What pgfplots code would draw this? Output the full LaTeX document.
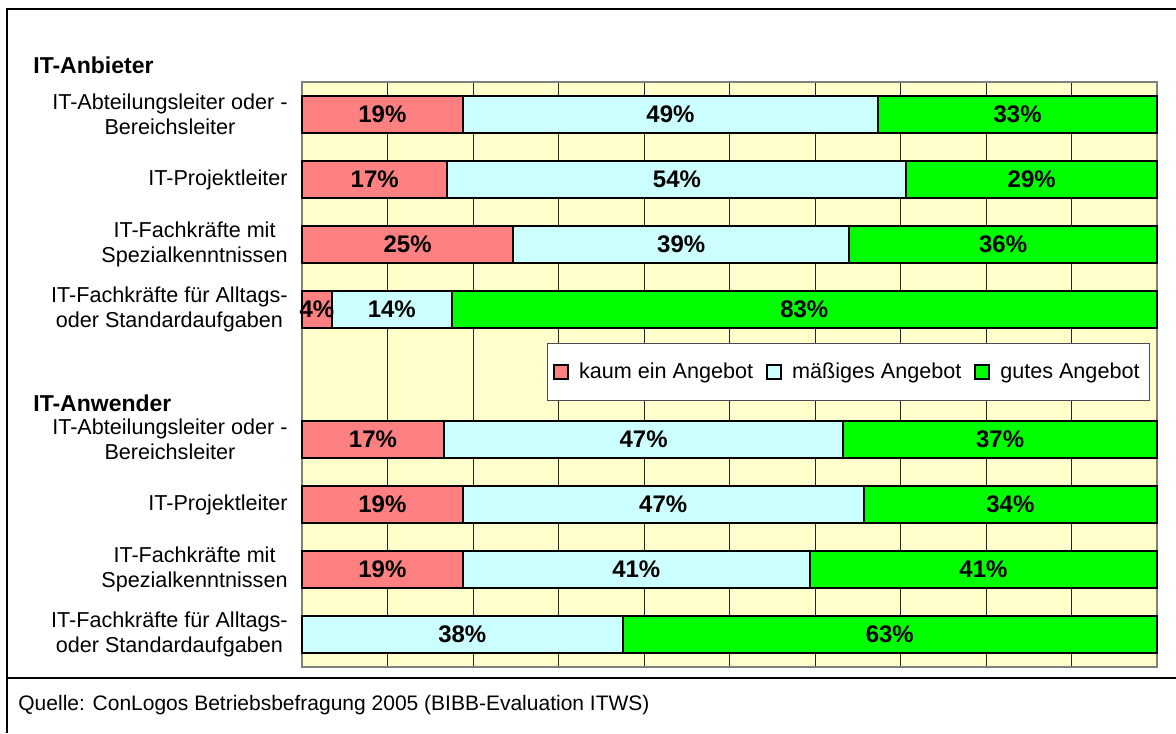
\documentclass[border=0pt]{standalone}
\usepackage{pgfplots}
\pgfplotsset{compat=1.18}
\usepackage{fontspec}
\setmainfont{Liberation Sans}

\definecolor{kaum}{HTML}{FF8080}
\definecolor{maessig}{HTML}{CCFFFF}
\definecolor{gut}{HTML}{00FF00}
\definecolor{plotbg}{HTML}{FFFFCC}

% 1 px of the 1176x733 image = 0.5pt
\begin{document}
\begin{tikzpicture}
  \path[use as bounding box] (0pt,0pt) rectangle (588pt,-366.5pt);
  \draw[line width=1.3pt] (3.5pt,-366.5pt) -- (3.5pt,-4.5pt) -- (588pt,-4.5pt);
  \draw[line width=1.3pt] (3.5pt,-339pt) -- (588pt,-339pt);

  \begin{axis}[
      at={(151pt,-41pt)}, anchor=north west,
      scale only axis,
      width=427.5pt, height=292.5pt,
      xbar stacked,
      bar width=18.5pt,
      xmin=0, xmax=100,
      ymin=0.5, ymax=9.5,
      y dir=reverse,
      clip=false,
      axis background/.style={fill=plotbg},
      axis line style={draw=gray, line width=1.3pt},
      xtick={0,10,...,100},
      xticklabels={},
      xmajorgrids,
      grid style={black!85, line width=0.5pt},
      major tick length=0pt,
      ytick={1,2,3,4,6,7,8,9},
      yticklabels={
          {IT-Abteilungsleiter oder -\\Bereichsleiter},
          {IT-Projektleiter},
          {IT-Fachkräfte mit\\Spezialkenntnissen},
          {IT-Fachkräfte für Alltags-\\oder Standardaufgaben},
          {IT-Abteilungsleiter oder -\\Bereichsleiter},
          {IT-Projektleiter},
          {IT-Fachkräfte mit\\Spezialkenntnissen},
          {IT-Fachkräfte für Alltags-\\oder Standardaufgaben},
      },
      yticklabel style={align=center, font=\fontsize{10.8}{12.5}\selectfont, inner sep=0pt, xshift=-7pt},
      point meta=explicit symbolic,
      nodes near coords,
      every node near coord/.append style={
          anchor=center, font=\fontsize{12}{14}\selectfont\bfseries},
      legend columns=3,
      legend style={
          at={(0.992,0.504)}, anchor=east,
          draw=black!70, fill=white, line width=0.6pt,
          font=\fontsize{10.8}{13}\selectfont,
          inner xsep=3pt, inner ysep=7.5pt,
          /tikz/every even column/.append style={column sep=4.5pt},
      },
      legend image code/.code={
          \draw[#1, draw=black, line width=0.9pt] (0pt,-3.5pt) rectangle (7pt,3.5pt);
          \path (10pt,0pt);},
  ]
  \addplot[fill=kaum, draw=black, line width=1pt] table[x=v, y=c, meta=lab] {
      v    c  lab
      18.8 1  19\%
      17.0 2  17\%
      24.7 3  25\%
      3.5  4  4\%
      16.6 6  17\%
      18.8 7  19\%
      18.8 8  19\%
      0    9  {}
  };
  \addlegendentry{kaum ein Angebot}

  \addplot[fill=maessig, draw=black, line width=1pt] table[x=v, y=c, meta=lab] {
      v    c  lab
      48.6 1  49\%
      53.7 2  54\%
      39.3 3  39\%
      14.0 4  14\%
      46.7 6  47\%
      46.9 7  47\%
      40.6 8  41\%
      37.5 9  38\%
  };
  \addlegendentry{mäßiges Angebot}

  \addplot[fill=gut, draw=black, line width=1pt] table[x=v, y=c, meta=lab] {
      v    c  lab
      32.6 1  33\%
      29.3 2  29\%
      36.0 3  36\%
      82.5 4  83\%
      36.7 6  37\%
      34.3 7  34\%
      40.6 8  41\%
      62.5 9  63\%
  };
  \addlegendentry{gutes Angebot}
  \end{axis}

  \node[anchor=west, font=\fontsize{11.5}{13}\selectfont\bfseries, inner sep=0pt] at (16.5pt,-32.5pt) {IT-Anbieter};
  \node[anchor=west, font=\fontsize{11.5}{13}\selectfont\bfseries, inner sep=0pt] at (16.5pt,-201.5pt) {IT-Anwender};
  \node[anchor=west, font=\fontsize{10.5}{13}\selectfont, inner sep=0pt] at (9pt,-352.5pt)
      {Quelle: ConLogos Betriebsbefragung 2005 (BIBB-Evaluation ITWS)};
\end{tikzpicture}
\end{document}
